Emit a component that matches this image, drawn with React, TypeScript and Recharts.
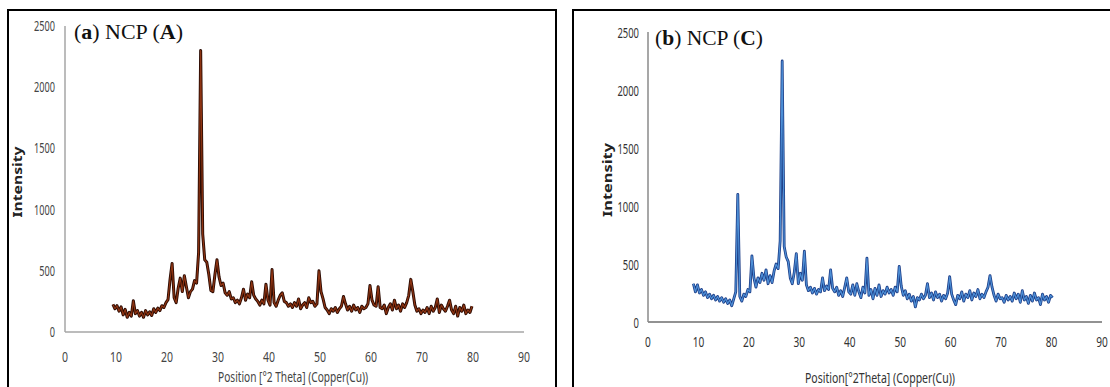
import React from 'react';
import { LineChart, Line, XAxis, YAxis } from 'recharts';

// 2θ positions (degrees)
const theta = [
  9.0, 9.4, 9.8, 10.2, 10.6, 11.0, 11.4, 11.8, 12.2, 12.6,
  13.0, 13.4, 13.8, 14.2, 14.6, 15.0, 15.4, 15.8, 16.2, 16.6,
  17.0, 17.4, 17.8, 18.2, 18.6, 19.0, 19.4, 19.8, 20.2, 20.6,
  21.0, 21.4, 21.8, 22.2, 22.6, 23.0, 23.4, 23.8, 24.2, 24.6,
  25.0, 25.4, 25.8, 26.2, 26.6, 27.0, 27.4, 27.8, 28.2, 28.6,
  29.0, 29.4, 29.8, 30.2, 30.6, 31.0, 31.4, 31.8, 32.2, 32.6,
  33.0, 33.4, 33.8, 34.2, 34.6, 35.0, 35.4, 35.8, 36.2, 36.6,
  37.0, 37.4, 37.8, 38.2, 38.6, 39.0, 39.4, 39.8, 40.2, 40.6,
  41.0, 41.4, 41.8, 42.2, 42.6, 43.0, 43.4, 43.8, 44.2, 44.6,
  45.0, 45.4, 45.8, 46.2, 46.6, 47.0, 47.4, 47.8, 48.2, 48.6,
  49.0, 49.4, 49.8, 50.2, 50.6, 51.0, 51.4, 51.8, 52.2, 52.6,
  53.0, 53.4, 53.8, 54.2, 54.6, 55.0, 55.4, 55.8, 56.2, 56.6,
  57.0, 57.4, 57.8, 58.2, 58.6, 59.0, 59.4, 59.8, 60.2, 60.6,
  61.0, 61.4, 61.8, 62.2, 62.6, 63.0, 63.4, 63.8, 64.2, 64.6,
  65.0, 65.4, 65.8, 66.2, 66.6, 67.0, 67.4, 67.8, 68.2, 68.6,
  69.0, 69.4, 69.8, 70.2, 70.6, 71.0, 71.4, 71.8, 72.2, 72.6,
  73.0, 73.4, 73.8, 74.2, 74.6, 75.0, 75.4, 75.8, 76.2, 76.6,
  77.0, 77.4, 77.8, 78.2, 78.6, 79.0, 79.4, 79.8, 80.2,
];

// (a) NCP (A) intensities
const intensityA: (number | null)[] = [
  null, 225, 190, 215, 170, 205, 140, 185, 120, 160,
  130, 255, 150, 175, 130, 160, 120, 175, 140, 165,
  135, 190, 160, 195, 175, 215, 200, 240, 265, 430,
  560, 280, 240, 360, 440, 330, 460, 370, 280, 330,
  350, 420, 400, 650, 2300, 800, 590, 570, 470, 340,
  330, 470, 590, 450, 380, 400, 320, 300, 330, 270,
  280, 240, 260, 230, 280, 350, 260, 310, 280, 410,
  300, 270, 250, 220, 260, 230, 390, 260, 220, 510,
  240, 210, 260, 300, 320, 250, 240, 210, 230, 200,
  240, 210, 270, 190, 220, 240, 200, 280, 240, 250,
  210, 230, 500, 330, 270, 200, 180, 150, 190, 170,
  200, 160, 190, 210, 290, 230, 180, 210, 170, 220,
  180, 200, 160, 210, 190, 200, 230, 380, 260, 220,
  210, 370, 200, 190, 220, 150, 200, 230, 180, 260,
  190, 220, 170, 230, 200, 240, 300, 430, 330, 220,
  170, 190, 150, 180, 160, 200, 150, 210, 170, 200,
  270, 160, 220, 190, 170, 210, 260, 180, 150, 210,
  130, 200, 170, 220, 150, 180, 160, 210, null,
];

// (b) NCP (C) intensities
const intensityB: (number | null)[] = [
  330, 260, 320, 250, 280, 230, 260, 210, 240, 200,
  230, 190, 220, 180, 210, 170, 200, 160, 190, 140,
  200, 260, 1100, 220, 180, 240, 220, 280, 260, 570,
  380, 300, 380, 340, 420, 360, 450, 330, 400, 340,
  440, 500, 460, 700, 2250, 650, 560, 520, 380, 330,
  430, 590, 330, 420, 360, 610, 320, 270, 300, 250,
  290, 240, 280, 260, 380, 270, 310, 280, 450, 290,
  260, 300, 230, 270, 220, 300, 380, 260, 240, 320,
  230, 330, 260, 210, 300, 250, 550, 230, 280, 200,
  290, 230, 320, 220, 270, 240, 300, 250, 280, 230,
  300, 260, 480, 310, 230, 270, 200, 240, 180, 220,
  130, 210, 190, 240, 200, 230, 330, 210, 250, 190,
  260, 210, 240, 180, 230, 200, 250, 390, 240, 190,
  150, 230, 200, 260, 180, 240, 210, 270, 190, 250,
  220, 280, 200, 240, 210, 260, 300, 400, 300, 230,
  180, 240, 200, 210, 170, 230, 190, 220, 180, 250,
  200, 240, 170, 270, 190, 220, 160, 230, 180, 250,
  190, 210, 150, 240, 190, 220, 170, 230, 210,
];

const xTicks = [0, 10, 20, 30, 40, 50, 60, 70, 80, 90];
const yTicks = [0, 500, 1000, 1500, 2000, 2500];

const dataA = theta.map((t, i) => ({ t, v: intensityA[i] }));
const dataB = theta.map((t, i) => ({ t, v: intensityB[i] }));

const TICK_FONT = "'Noto Sans', sans-serif";

const makeYTick = (fontSize: number, perChar: number, color: string, dy: number) => (props: any) => {
  const { x, y, payload } = props;
  const s = String(payload.value);
  return (
    <text x={x} y={y + dy} textAnchor="end" fontFamily={TICK_FONT} fontSize={fontSize} fill={color}
      textLength={s.length * perChar} lengthAdjust="spacingAndGlyphs">{s}</text>
  );
};

const makeXTick = (fontSize: number, perChar: number, color: string, dy: number) => (props: any) => {
  const { x, y, payload } = props;
  const s = String(payload.value);
  return (
    <text x={x} y={y + dy} textAnchor="middle" fontFamily={TICK_FONT} fontSize={fontSize} fill={color}
      textLength={s.length * perChar} lengthAdjust="spacingAndGlyphs">{s}</text>
  );
};

export default function App() {
  return (
    <div style={{ position: 'absolute', left: 0, top: 0, width: 1110, height: 387, background: '#fff', overflow: 'hidden' }}>
      {/* panel borders */}
      <div style={{ position: 'absolute', left: 7, top: 9, width: 546, height: 420, border: '2px solid #000' }} />
      <div style={{ position: 'absolute', left: 572, top: 9, width: 600, height: 420, border: '2px solid #000' }} />

      {/* Panel A */}
      <div style={{ position: 'absolute', left: 0, top: 0 }}>
        <LineChart width={556} height={387} data={dataA} margin={{ top: 26, right: 32, bottom: 25, left: 25 }}>
          <XAxis dataKey="t" type="number" domain={[0, 90]} ticks={xTicks} interval={0} height={30}
            axisLine={{ stroke: '#a6a6a6', strokeWidth: 1.5 }} tickLine={false} tickSize={0} tickMargin={0}
            tick={makeXTick(14, 6, '#444', 30)} />
          <YAxis type="number" domain={[0, 2500]} ticks={yTicks} interval={0} width={40}
            axisLine={{ stroke: '#a6a6a6', strokeWidth: 1.5 }} tickLine={false} tickSize={0} tickMargin={10}
            tick={makeYTick(14, 5.25, '#444', 5)} />
          <Line key="a-outer" dataKey="v" stroke="#2a0a02" strokeWidth={3} dot={false} isAnimationActive={false} strokeLinejoin="round" />
          <Line key="a-inner" dataKey="v" stroke="#8e3412" strokeWidth={1.2} dot={false} isAnimationActive={false} strokeLinejoin="round" />
        </LineChart>
      </div>

      {/* Panel B */}
      <div style={{ position: 'absolute', left: 560, top: 0 }}>
        <LineChart width={550} height={387} data={dataB} margin={{ top: 32, right: 8, bottom: 35, left: 48 }}>
          <XAxis dataKey="t" type="number" domain={[0, 90]} ticks={xTicks} interval={0} height={30}
            axisLine={{ stroke: '#6e6e6e', strokeWidth: 1.5 }} tickLine={false} tickSize={0} tickMargin={0}
            tick={makeXTick(15, 5.8, '#333', 25)} />
          <YAxis type="number" domain={[0, 2500]} ticks={yTicks} interval={0} width={40}
            axisLine={{ stroke: '#8a8a8a', strokeWidth: 1.5 }} tickLine={false} tickSize={0} tickMargin={9}
            tick={makeYTick(15, 5.4, '#333', 5.5)} />
          <Line key="b-outer" dataKey="v" stroke="#1c3c86" strokeWidth={2.8} dot={false} isAnimationActive={false} strokeLinejoin="round" />
          <Line key="b-inner" dataKey="v" stroke="#4d8fd6" strokeWidth={1.2} dot={false} isAnimationActive={false} strokeLinejoin="round" />
        </LineChart>
      </div>

      {/* Titles and axis titles */}
      <svg width={1110} height={387} style={{ position: 'absolute', left: 0, top: 0, pointerEvents: 'none' }}>
        <text x={74} y={39} fontFamily="'Liberation Serif', serif" fontSize={20} fill="#111" textLength={109} lengthAdjust="spacingAndGlyphs">
          <tspan>(</tspan><tspan fontWeight="bold">a</tspan><tspan>) NCP (</tspan><tspan fontWeight="bold">A</tspan><tspan>)</tspan>
        </text>
        <text x={655} y={45} fontFamily="'Liberation Serif', serif" fontSize={20} fill="#111" textLength={108} lengthAdjust="spacingAndGlyphs">
          <tspan>(</tspan><tspan fontWeight="bold">b</tspan><tspan>) NCP (</tspan><tspan fontWeight="bold">C</tspan><tspan>)</tspan>
        </text>

        <text transform="translate(22,182) rotate(-90)" textAnchor="middle" fontFamily={TICK_FONT} fontWeight="bold" fontSize={12} fill="#222"
          textLength={71} lengthAdjust="spacingAndGlyphs">Intensity</text>
        <text transform="translate(612,180) rotate(-90)" textAnchor="middle" fontFamily={TICK_FONT} fontWeight="bold" fontSize={12} fill="#222"
          textLength={74} lengthAdjust="spacingAndGlyphs">Intensity</text>

        <text x={293} y={382} textAnchor="middle" fontFamily={TICK_FONT} fontSize={15} fill="#444"
          textLength={150} lengthAdjust="spacingAndGlyphs">Position [°2 Theta] (Copper(Cu))</text>
        <text x={880} y={383} textAnchor="middle" fontFamily={TICK_FONT} fontSize={15} fill="#333"
          textLength={150} lengthAdjust="spacingAndGlyphs">Position[°2Theta] (Copper(Cu))</text>
      </svg>
    </div>
  );
}
